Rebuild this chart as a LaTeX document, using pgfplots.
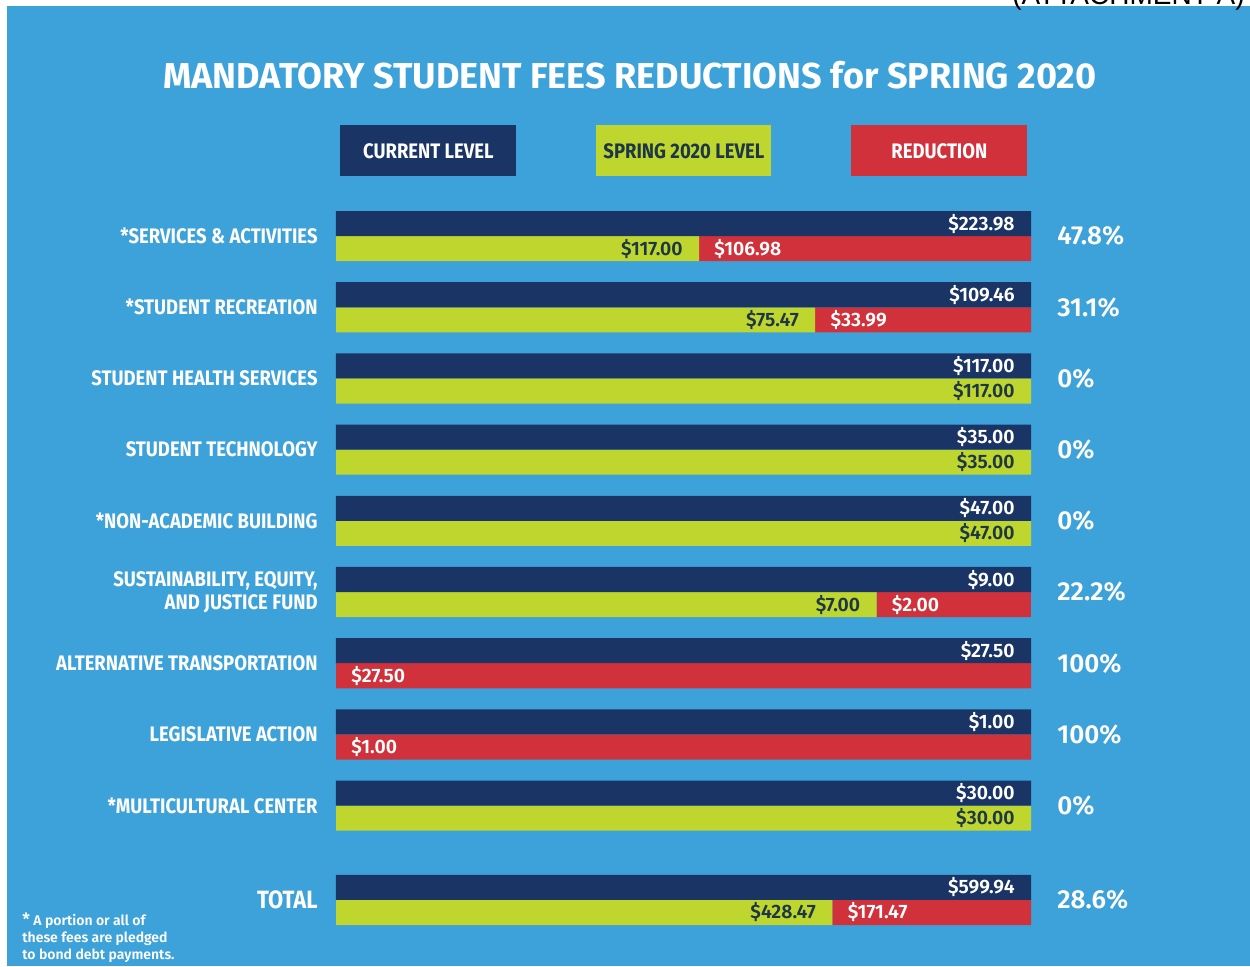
\documentclass[border=0pt]{standalone}
\usepackage{pgfplots}
\usepackage{pgfplotstable}
\pgfplotsset{compat=1.18}
\usepackage{fontspec}
\setmainfont{Fira Sans}
\newfontfamily\firasb{Fira Sans}[UprightFont=* SemiBold]
\newfontfamily\firab{Fira Sans}[UprightFont=* Bold]
\newfontfamily\cond{Fira Sans}[UprightFont=* Bold, FakeStretch=0.88]
\newfontfamily\arial{Liberation Sans}
\definecolor{bg}{RGB}{61,162,217}
\definecolor{navy}{RGB}{26,53,101}
\definecolor{lime}{RGB}{191,214,47}
\definecolor{redc}{RGB}{209,49,58}
\definecolor{darktxt}{RGB}{30,55,70}

\pgfplotstableread[col sep=comma]{
row,current,spring,reduction,curlab,sprlab,redlab,pct
0,223.98,117.00,106.98,\$223.98,\$117.00,\$106.98,47.8\%
1,109.46,75.47,33.99,\$109.46,\$75.47,\$33.99,31.1\%
2,117.00,117.00,0,\$117.00,\$117.00,{},0\%
3,35.00,35.00,0,\$35.00,\$35.00,{},0\%
4,47.00,47.00,0,\$47.00,\$47.00,{},0\%
5,9.00,7.00,2.00,\$9.00,\$7.00,\$2.00,22.2\%
6,27.50,0,27.50,\$27.50,{},\$27.50,100\%
7,1.00,0,1.00,\$1.00,{},\$1.00,100\%
8,30.00,30.00,0,\$30.00,\$30.00,{},0\%
9.325,599.94,428.47,171.47,\$599.94,\$428.47,\$171.47,28.6\%
}\fees

\pgfplotsset{barax/.style={
  scale only axis, width=347.5pt, height=357pt,
  xmin=0, xmax=1, ymin=-0.352, ymax=9.677, y dir=reverse,
  axis line style={draw=none}, major tick length=0pt, tick style={draw=none},
  xtick=\empty, ytick=\empty, clip=false,
  at={(168pt,-105.5pt)}, anchor=north west,
}}

\begin{document}
\begin{tikzpicture}[x=0.5pt,y=-0.5pt]
\useasboundingbox (0,0) rectangle (1250,966);
\fill[white] (0,0) rectangle (1250,966);
\fill[bg] (7,6) rectangle (1250,966);
\node[anchor=base east, inner sep=0pt, font=\arial\fontsize{14}{16}\selectfont, text=black] at (1245,4) {(ATTACHMENT A)};
% title
\node[anchor=base, inner sep=0pt, text=white, font=\firab\fontsize{18}{20}\selectfont] at (630,88)
  {MANDATORY STUDENT FEES REDUCTIONS for SPRING 2020};
% legend boxes
\node[anchor=north west, fill=navy, minimum width=88pt, minimum height=25.5pt, inner sep=0pt,
  text=white, font=\cond\fontsize{10.5}{12}\selectfont] at (340,125) {CURRENT LEVEL};
\node[anchor=north west, fill=lime, minimum width=87.5pt, minimum height=25.5pt, inner sep=0pt,
  text=darktxt, font=\cond\fontsize{10.5}{12}\selectfont] at (596,125) {SPRING 2020 LEVEL};
\node[anchor=north west, fill=redc, minimum width=88pt, minimum height=25.5pt, inner sep=0pt,
  text=white, font=\cond\fontsize{10.5}{12}\selectfont] at (851,125) {REDUCTION};
% footnote
\node[anchor=north west, inner sep=0pt, align=left, text=white,
  font=\firasb\fontsize{7}{8.7}\selectfont] at (22,912)
  {{\fontsize{8.5}{8.7}\selectfont*} A portion or all of\\these fees are pledged\\to bond debt payments.};

% green + red stacked bars
\begin{axis}[barax, xbar stacked, bar width=0.352]
\addplot[fill=lime, draw=none] table[x expr=\thisrow{spring}/\thisrow{current}, y expr=\thisrow{row}+0.176] {\fees};
\addplot[fill=redc, draw=none] table[x expr=\thisrow{reduction}/\thisrow{current}, y expr=\thisrow{row}+0.176] {\fees};
\end{axis}

% navy bars and all labels
\begin{axis}[barax,
  ytick={0,1,2,3,4,5,6,7,8,9.325},
  yticklabels={{*SERVICES \& ACTIVITIES},{*STUDENT RECREATION},{STUDENT HEALTH SERVICES},
    {STUDENT TECHNOLOGY},{*NON-ACADEMIC BUILDING},{SUSTAINABILITY, EQUITY,\\AND JUSTICE FUND},
    {ALTERNATIVE TRANSPORTATION},{LEGISLATIVE ACTION},{*MULTICULTURAL CENTER},
    {\fontsize{12.5}{14}\selectfont TOTAL}},
  yticklabel style={font=\cond\fontsize{10.5}{11.5}\selectfont, text=white, align=right,
    inner sep=0pt, xshift=-9pt},
  labels/.style={draw=none, point meta=explicit symbolic, nodes near coords,
    every node near coord/.append style={inner sep=0pt, font=\firasb\fontsize{9.7}{12}\selectfont}},
]
\addplot[xbar, bar width=0.352, bar shift=0pt, fill=navy, draw=none]
  table[x expr=\thisrow{current}/\thisrow{current}, y expr=\thisrow{row}-0.176] {\fees};
% current level labels
\addplot[labels, nodes near coords align={anchor=east},
  every node near coord/.append style={xshift=-8pt, text=white}]
  table[x expr=\thisrow{current}/\thisrow{current}, y expr=\thisrow{row}-0.176, meta=curlab] {\fees};
% spring level labels
\addplot[labels, nodes near coords align={anchor=east},
  every node near coord/.append style={xshift=-8pt, text=darktxt}]
  table[x expr=\thisrow{spring}/\thisrow{current}, y expr=\thisrow{row}+0.176, meta=sprlab] {\fees};
% reduction labels
\addplot[labels, nodes near coords align={anchor=west},
  every node near coord/.append style={xshift=7.5pt, text=white}]
  table[x expr=\thisrow{spring}/\thisrow{current}, y expr=\thisrow{row}+0.176, meta=redlab] {\fees};
% percentage labels
\addplot[labels, nodes near coords align={anchor=west},
  every node near coord/.append style={xshift=13pt, text=white, font=\firasb\fontsize{13}{15}\selectfont}]
  table[x expr=\thisrow{current}/\thisrow{current}, y expr=\thisrow{row}, meta=pct] {\fees};
\end{axis}
\end{tikzpicture}
\end{document}
